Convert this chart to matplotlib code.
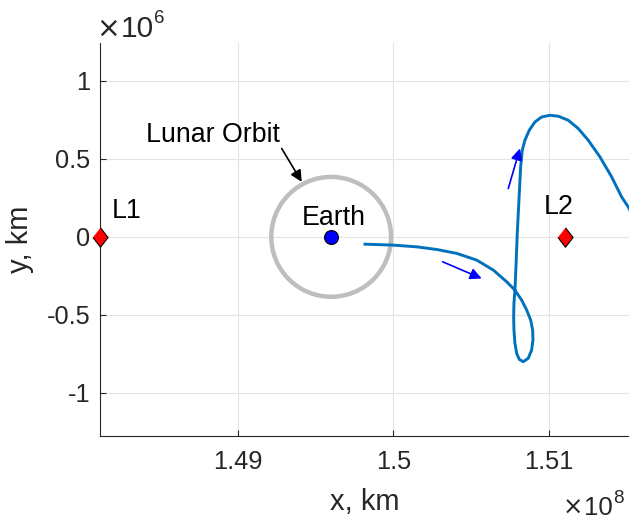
import matplotlib
matplotlib.use("Agg")
import matplotlib.pyplot as plt
from matplotlib.patches import Circle
from matplotlib.ticker import FuncFormatter

plt.rcParams['font.family'] = ['Liberation Sans', 'DejaVu Sans']

# values as read on the axes: x in 1e8 km, y in 1e6 km
traj_x = [1.498171, 1.499987, 1.501489, 1.502773, 1.504056, 1.505340, 1.506406,
          1.507266, 1.507798, 1.508228, 1.508549, 1.508806, 1.508935, 1.508954,
          1.508870, 1.508652, 1.508331, 1.508074, 1.507908, 1.507798, 1.507734,
          1.507715, 1.507734, 1.507798, 1.507863, 1.507946, 1.508055, 1.508164,
          1.508267, 1.508440, 1.508716, 1.509082, 1.509512, 1.510045, 1.510578,
          1.511220, 1.511861, 1.512503, 1.513254, 1.514005, 1.514647, 1.515071,
          1.515372]
traj_y = [-0.047, -0.053, -0.064, -0.081, -0.106, -0.149, -0.213,
          -0.288, -0.342, -0.406, -0.469, -0.533, -0.597, -0.662,
          -0.726, -0.779, -0.801, -0.786, -0.747, -0.683, -0.598,
          -0.513, -0.427, -0.342, -0.192, 0.022, 0.235, 0.449,
          0.556, 0.620, 0.684, 0.737, 0.769, 0.780, 0.774,
          0.748, 0.695, 0.620, 0.513, 0.385, 0.256, 0.192,
          0.133]

earth = (1.49600, 0.0)
moon_orbit_r = 0.3844
l1 = (1.48116, 0.0)
l2 = (1.51100, 0.0)

# direction arrows (tail, tip)
dir_arrows = [((1.503158, -0.160), (1.505661, -0.267)),
              ((1.507369, 0.310), (1.508119, 0.567))]
orbit_arrow = ((1.492824, 0.567), (1.494108, 0.353))

xlim = (1.48116, 1.51512)
ylim = (-1.2776, 1.2417)
xticks = [1.49, 1.50, 1.51]
yticks = [-1, -0.5, 0, 0.5, 1]

XS, YS = 1e8, 1e6

fig = plt.figure(figsize=(6.29, 5.19), dpi=100)
ax = fig.add_axes([100 / 629, 1 - 436 / 519, 529 / 629, (436 - 43.3) / 519])

ax.add_patch(Circle((earth[0] * XS, earth[1] * YS), moon_orbit_r * YS,
                    fill=False, ec='#bebebe', lw=3.2, zorder=2))
ax.plot([v * XS for v in traj_x], [v * YS for v in traj_y],
        color='#0072BD', lw=2.1, zorder=3, solid_joinstyle='round')
ax.plot(earth[0] * XS, earth[1] * YS, 'o', ms=10, mfc='#0000ff', mec='black',
        mew=0.8, zorder=4)

diamond = [(0, 1), (0.78, 0), (0, -1), (-0.78, 0)]
for p in (l1, l2):
    ax.plot(p[0] * XS, p[1] * YS, marker=diamond, ms=14, mfc='#ff0000', mec='black',
            mew=0.8, ls='none', clip_on=False, zorder=4)

for tail, tip in dir_arrows:
    ax.annotate('', xy=(tip[0] * XS, tip[1] * YS), xytext=(tail[0] * XS, tail[1] * YS),
                arrowprops=dict(arrowstyle='-|>', color='#0000ff', lw=1.2,
                                mutation_scale=17, shrinkA=0, shrinkB=0))
ax.annotate('', xy=(orbit_arrow[1][0] * XS, orbit_arrow[1][1] * YS),
            xytext=(orbit_arrow[0][0] * XS, orbit_arrow[0][1] * YS),
            arrowprops=dict(arrowstyle='-|>', color='black', lw=1.2,
                            mutation_scale=17, shrinkA=0, shrinkB=0))

fs = 19.3
ax.text(1.488434 * XS, 0.609 * YS, 'Lunar Orbit', ha='center', va='baseline', fontsize=fs)
ax.text(1.481913 * XS, 0.118 * YS, 'L1', ha='left', va='baseline', fontsize=fs)
ax.text(1.496136 * XS, 0.075 * YS, 'Earth', ha='center', va='baseline', fontsize=fs)
ax.text(1.510610 * XS, 0.144 * YS, 'L2', ha='center', va='baseline', fontsize=fs)

ax.set_xlim(xlim[0] * XS, xlim[1] * XS)
ax.set_ylim(ylim[0] * YS, ylim[1] * YS)
ax.set_xticks([t * XS for t in xticks])
ax.set_yticks([t * YS for t in yticks])
ax.xaxis.set_major_formatter(FuncFormatter(lambda v, p: '%g' % round(v / XS, 4)))
ax.yaxis.set_major_formatter(FuncFormatter(lambda v, p: '%g' % round(v / YS, 4)))

ax.grid(True, color='#e3e3e3', lw=0.8)
ax.set_axisbelow(True)
for s in ('top', 'right'):
    ax.spines[s].set_visible(False)
for s in ('left', 'bottom'):
    ax.spines[s].set_color('#262626')
    ax.spines[s].set_linewidth(0.8)
ax.tick_params(direction='in', length=4, width=0.8, colors='#262626',
               labelsize=18.3, labelcolor='#262626')
ax.tick_params(axis='x', pad=10)
ax.tick_params(axis='y', pad=7)

ax.set_xlabel('x, km', fontsize=21, color='#262626')
ax.set_ylabel('y, km', fontsize=21, color='#262626')
ax.xaxis.set_label_coords(0.5, -0.132)
ax.yaxis.set_label_coords(-0.125, 0.5)


def exponent(x_times, x_split, y_base, y_sup, size, power):
    # "×" in DejaVu (thin, wide cross), "10" and the power in the main font
    fig.text(x_times / 629, 1 - y_base / 519, '\u00d7', fontsize=size * 0.95,
             family='DejaVu Sans', color='#262626', ha='right', va='baseline')
    fig.text(x_split / 629, 1 - y_base / 519, '10', fontsize=size, color='#262626',
             ha='right', va='baseline')
    fig.text((x_split + 0.5) / 629, 1 - y_sup / 519, power, fontsize=13.5,
             color='#262626', ha='left', va='baseline')


exponent(119.5, 153.5, 36.7, 23.3, 21.5, '6')
exponent(583.5, 612.5, 515, 503.3, 18.5, '8')

fig.savefig('out.png', dpi=100)
